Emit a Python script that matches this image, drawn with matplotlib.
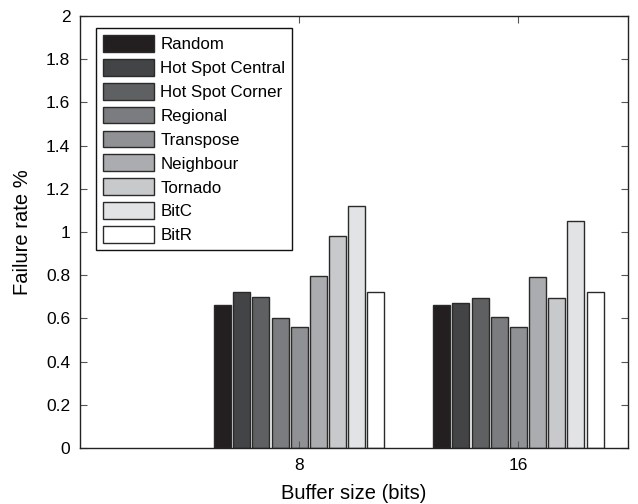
import numpy as np
import matplotlib
matplotlib.use("Agg")
import matplotlib.pyplot as plt
from matplotlib.ticker import FuncFormatter

plt.rcParams['font.family'] = ['Liberation Sans', 'DejaVu Sans']

buffer_sizes = [8, 16]
patterns = ["Random", "Hot Spot Central", "Hot Spot Corner", "Regional",
            "Transpose", "Neighbour", "Tornado", "BitC", "BitR"]
failure_rates = {
    "Random":           [0.66, 0.66],
    "Hot Spot Central": [0.72, 0.673],
    "Hot Spot Corner":  [0.70, 0.696],
    "Regional":         [0.60, 0.607],
    "Transpose":        [0.56, 0.56],
    "Neighbour":        [0.795, 0.79],
    "Tornado":          [0.982, 0.696],
    "BitC":             [1.12, 1.053],
    "BitR":             [0.72, 0.72],
}
grays = ['#231f20', '#434446', '#5f6062', '#7b7c7f', '#909194',
         '#abacaf', '#c8c9cb', '#e2e3e4', '#ffffff']

fig = plt.figure(figsize=(6.38, 5.04), dpi=100)
ax = fig.add_axes([0.1254, 0.1111, 0.8589, 0.8572])

x = np.array(buffer_sizes, dtype=float)
slot = 0.7  # group slot per series
width = 0.62
for i, name in enumerate(patterns):
    ax.bar(x + (i - 4) * slot, failure_rates[name], width, color=grays[i],
           edgecolor='#2a2a2a', linewidth=1.0, label=name)

ax.set_xlim(0, 20)
ax.set_ylim(0, 2)
ax.set_xticks(buffer_sizes)
ax.set_yticks(np.arange(0, 2.01, 0.2))
ax.yaxis.set_major_formatter(FuncFormatter(lambda v, p: f"{v:g}"))
ax.tick_params(direction='in', length=5, top=True, right=True,
               labelsize=12.5, color='#555555', pad=7)
for s in ax.spines.values():
    s.set_color('#222222')
    s.set_linewidth(1.0)

ax.set_xlabel("Buffer size (bits)", fontsize=14.5, labelpad=8)
ax.set_ylabel("Failure rate %", fontsize=14.5, labelpad=10)

leg = ax.legend(loc='upper left', bbox_to_anchor=(0.029, 0.972), borderaxespad=0,
                fontsize=12.2, handlelength=3.0, handleheight=1.15, labelspacing=0.4,
                handletextpad=0.4, borderpad=0.4, fancybox=False, framealpha=1)
leg.get_frame().set_edgecolor('#111111')
leg.get_frame().set_linewidth(1.0)

fig.savefig("out.png", dpi=100)
